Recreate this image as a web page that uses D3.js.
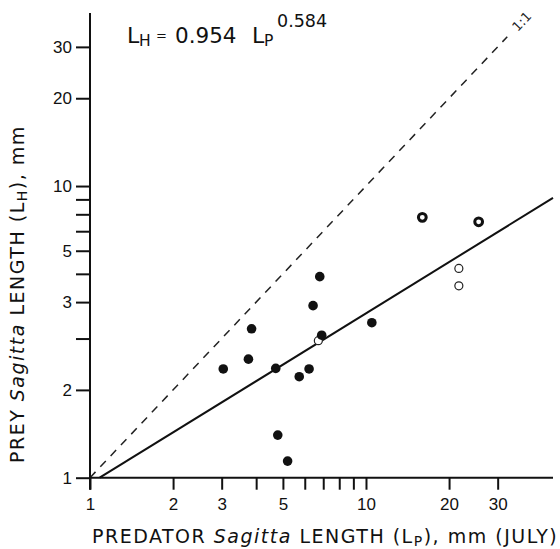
<!DOCTYPE html>
<html lang="en">
<head>
  <meta charset="UTF-8">
  <title>Sagitta prey vs predator length</title>
  <script src="https://d3js.org/d3.v7.min.js"></script>
  <style>
    body { margin: 0; background: white; }
    svg { font-family: "DejaVu Sans", sans-serif; }
    .axis path, .axis line { stroke: #111; stroke-width: 2px; }
    .axis text { font-size: 17px; fill: #111; }
    .title { font-size: 19px; fill: #111; letter-spacing: 1.5px; }
  </style>
</head>
<body>
<svg id="chart"></svg>
<script>
// predator length (Lp, mm) and prey length (Lh, mm)
// filled dots
const filledLp = [3.04, 3.75, 3.85, 4.71, 4.79, 5.20, 5.73, 6.22, 6.43, 6.80, 6.91, 10.5];
const filledLh = [2.36, 2.55, 3.24, 2.37, 1.40, 1.14, 2.22, 2.36, 3.89, 4.89, 3.08, 3.40];
// thin open circles
const openLp = [6.72, 21.7, 21.7];
const openLh = [2.95, 5.22, 4.55];
// thick rings
const ringLp = [16.0, 25.6];
const ringLh = [7.81, 7.54];

// fitted line Lh = a * Lp^b
const fitA = 0.954;
const fitB = 0.584;

const xTickValues = [1, 2, 3, 4, 5, 6, 7, 8, 9, 10, 20, 30];
const xTickText   = ["1", "2", "3", "", "5", "", "", "", "", "10", "20", "30"];
// labels as printed on the original figure
const yTickValues = [1, 2, 3, 4, 5, 6, 7, 8, 9, 10, 20, 30];
const yTickText   = ["1", "2", "", "3", "", "5", "", "", "", "10", "20", "30"];

const width = 560, height = 549;
const xMax = 47.6, yMax = 39.2;

const svg = d3.select("#chart").attr("width", width).attr("height", height);

const x = d3.scaleLog().domain([1, xMax]).range([90, 553]);
const y = d3.scaleLog().domain([1, yMax]).range([477.7, 13]);

// 1:1 line
const oneEnd = 32.5;
svg.append("line")
  .attr("x1", x(1)).attr("y1", y(1))
  .attr("x2", x(oneEnd)).attr("y2", y(oneEnd))
  .attr("stroke", "#222")
  .attr("stroke-width", 1.5)
  .attr("stroke-dasharray", "8,7");

const ang = Math.atan2(y(1) - y(10), x(10) - x(1)) * 180 / Math.PI;
svg.append("text")
  .attr("transform", "translate(" + x(34.5) + "," + y(34.5) + ") rotate(" + (-ang) + ")")
  .attr("dy", "0.35em")
  .attr("font-size", 13)
  .attr("fill", "#222")
  .text("1:1");

// regression line
const xStart = Math.pow(1 / fitA, 1 / fitB);
const fitPts = [xStart, xMax].map(v => [v, fitA * Math.pow(v, fitB)]);
svg.append("path")
  .attr("d", d3.line().x(d => x(d[0])).y(d => y(d[1]))(fitPts))
  .attr("stroke", "#111")
  .attr("stroke-width", 2)
  .attr("fill", "none");

// axes
const xAxis = d3.axisBottom(x)
  .tickValues(xTickValues)
  .tickFormat((d, i) => xTickText[i])
  .tickSize(12).tickSizeOuter(0).tickPadding(8);
svg.append("g").attr("class", "axis")
  .attr("transform", "translate(0," + y(1) + ")")
  .call(xAxis)
  .call(g => g.select(".domain").attr("d", "M" + x(1) + ",0H" + x(xMax)));

const yAxis = d3.axisLeft(y)
  .tickValues(yTickValues)
  .tickFormat((d, i) => yTickText[i])
  .tickSize(14).tickSizeOuter(0).tickPadding(4);
svg.append("g").attr("class", "axis")
  .attr("transform", "translate(" + x(1) + ",0)")
  .call(yAxis)
  .call(g => g.select(".domain").attr("d", "M0," + y(yMax) + "V" + (y(1) + 12)));

// points
const zip = (a, b) => a.map((v, i) => [v, b[i]]);

svg.append("g").selectAll("circle")
  .data(zip(openLp, openLh))
  .join("circle")
  .attr("cx", d => x(d[0])).attr("cy", d => y(d[1]))
  .attr("r", 4)
  .attr("fill", "white").attr("stroke", "#222").attr("stroke-width", 1.2);

svg.append("g").selectAll("circle")
  .data(zip(filledLp, filledLh))
  .join("circle")
  .attr("cx", d => x(d[0])).attr("cy", d => y(d[1]))
  .attr("r", 4.8)
  .attr("fill", "#111");

svg.append("g").selectAll("circle")
  .data(zip(ringLp, ringLh))
  .join("circle")
  .attr("cx", d => x(d[0])).attr("cy", d => y(d[1]))
  .attr("r", 3.9)
  .attr("fill", "white").attr("stroke", "#111").attr("stroke-width", 3);

// equation
const eq = svg.append("text").attr("fill", "#111").attr("y", 43);
eq.append("tspan").attr("x", 127).attr("font-size", 22).text("L");
eq.append("tspan").attr("x", 139).attr("y", 46).attr("font-size", 15.5).text("H");
eq.append("tspan").attr("x", 156).attr("y", 40).attr("font-size", 13).text("=");
eq.append("tspan").attr("x", 175).attr("y", 43).attr("font-size", 21.5).text("0.954");
eq.append("tspan").attr("x", 252).attr("y", 43).attr("font-size", 22).text("L");
eq.append("tspan").attr("x", 264).attr("y", 46).attr("font-size", 15.5).text("P");
eq.append("tspan").attr("x", 277).attr("y", 27).attr("font-size", 17.5).text("0.584");

// axis titles
const xt = svg.append("text").attr("class", "title")
  .attr("x", 92).attr("y", 543);
xt.append("tspan").text("PREDATOR ");
xt.append("tspan").attr("font-style", "italic").text("Sagitta");
xt.append("tspan").text(" LENGTH (L");
xt.append("tspan").attr("font-size", 14).attr("dy", 3).text("P");
xt.append("tspan").attr("dy", -3).text("), mm (JULY)");

const yt = svg.append("text").attr("class", "title")
  .attr("transform", "translate(24,463) rotate(-90)");
yt.append("tspan").text("PREY ");
yt.append("tspan").attr("font-style", "italic").text("Sagitta");
yt.append("tspan").text(" LENGTH (L");
yt.append("tspan").attr("font-size", 14).attr("dy", 3).text("H");
yt.append("tspan").attr("dy", -3).text("), mm");
</script>
</body>
</html>
